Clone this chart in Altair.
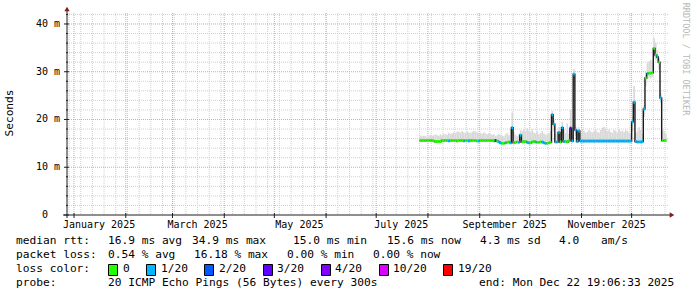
import altair as alt
import pandas as pd

MONO = "DejaVu Sans Mono"

# ---------------- data ----------------
first_day = "2025-07-27"   # first daily step that has data
median_ms = [
    15.6, 15.6, 15.6, 15.6, 15.6, 15.6, 15.6, 15.6, 15.5, 15.4,
    15.4, 15.4, 15.4, 15.6, 15.6, 15.6, 15.6, 15.5, 15.6, 15.6,
    15.6, 15.6, 15.5, 15.6, 15.6, 15.6, 15.5, 15.6, 15.6, 15.5,
    15.6, 15.6, 15.6, 15.6, 15.5, 15.5, 15.6, 15.6, 15.6, 15.6,
    15.6, 15.6, 15.6, 15.6, 15.5, 15.6, 15.5, 15.3, 15.1, 15.0,
    15.0, 15.1, 15.2, 15.3, 15.1, 18.3, 15.1, 15.2, 15.3, 15.2,
    16.7, 15.3, 15.4, 15.4, 15.2, 15.1, 15.1, 15.3, 15.4, 15.3,
    15.2, 15.2, 15.3, 15.3, 15.1, 15.0, 15.0, 15.1, 15.2, 21.0,
    19.0, 15.3, 15.3, 17.3, 15.3, 18.3, 15.4, 15.4, 15.3, 15.5,
    18.2, 15.5, 29.5, 17.8, 15.4, 17.6, 15.5, 15.5, 15.5, 15.5,
    15.5, 15.5, 15.5, 15.5, 15.5, 15.5, 15.5, 15.5, 15.5, 15.5,
    15.5, 15.5, 15.5, 15.5, 15.5, 15.5, 15.5, 15.5, 15.5, 15.5,
    15.5, 15.5, 15.5, 15.5, 15.5, 15.5, 15.5, 19.5,
    23.6, 15.4, 15.3, 15.3, 15.3, 15.4,
    22.2, 28.7, 29.6, 29.7, 29.7, 29.8,
    34.9, 33.5, 33.1, 32.0, 24.5, 15.6, 15.6, 15.6,
]
loss_idx = [
    0, 0, 0, 0, 0, 0, 0, 0, 0, 0,
    0, 0, 0, 0, 0, 0, 0, 1, 0, 0,
    0, 0, 0, 0, 0, 0, 1, 0, 0, 1,
    0, 0, 0, 0, 0, 1, 0, 0, 0, 0,
    0, 0, 0, 0, 0, 3, 0, 1, 1, 0,
    0, 1, 0, 0, 1, 1, 0, 0, 0, 1,
    1, 0, 0, 0, 1, 1, 0, 0, 0, 1,
    0, 0, 0, 1, 1, 1, 0, 0, 0, 1,
    1, 1, 1, 1, 0, 1, 1, 0, 0, 0,
    3, 1, 1, 1, 1, 1, 1, 1, 1, 1,
    1, 1, 1, 1, 1, 1, 1, 1, 1, 1,
    1, 1, 1, 1, 1, 1, 1, 1, 1, 1,
    1, 1, 1, 1, 1, 1, 1, 1,
    1, 1, 1, 1, 1, 1,
    1, 0, 1, 0, 0, 0,
    0, 0, 1, 0, 1, 0, 0, 0,
]
smoke_hi = [
    16.6, 16.5, 16.6, 16.6, 16.4, 16.5, 16.8, 16.6, 16.7, 16.9,
    16.7, 16.6, 16.9, 16.7, 17.0, 16.9, 16.8, 17.2, 17.0, 17.1,
    17.3, 17.2, 17.5, 17.4, 17.3, 17.6, 17.3, 17.2, 17.5, 17.3,
    17.2, 17.4, 17.6, 17.5, 17.3, 17.1, 17.2, 17.0, 17.3, 17.1,
    16.9, 17.1, 17.0, 16.8, 16.9, 16.6, 16.7, 17.0, 16.8, 16.6,
    16.5, 16.9, 17.2, 16.7, 17.9, 21.5, 17.3, 16.8, 16.5, 17.0,
    17.8, 17.5, 18.0, 17.6, 18.2, 17.7, 17.4, 17.9, 17.3, 17.1,
    17.5, 16.9, 17.2, 17.6, 17.0, 16.8, 16.9, 17.1, 17.6, 21.8,
    20.0, 16.9, 17.5, 18.5, 17.0, 19.5, 18.0, 17.2, 19.2, 17.0,
    22.0, 17.0, 30.5, 18.5, 17.5, 18.4, 17.0, 18.0, 17.6, 17.2,
    17.4, 17.8, 17.5, 17.3, 17.6, 17.9, 17.4, 17.2, 17.8, 18.3,
    18.5, 18.0, 17.6, 17.9, 17.4, 17.2, 17.8, 17.6, 17.3, 17.9,
    17.5, 17.7, 17.4, 17.8, 17.6, 17.3, 17.0, 20.5,
    27.0, 17.2, 17.6, 18.4, 17.8, 17.0,
    23.0, 30.0, 31.8, 32.2, 32.5, 32.0,
    37.0, 36.0, 34.5, 33.0, 25.5, 17.8, 17.6, 17.0,
]
smoke_lo = [
    15.4, 15.4, 15.4, 15.4, 15.4, 15.4, 15.4, 15.4, 15.4, 15.3,
    15.3, 15.3, 15.3, 15.4, 15.4, 15.4, 15.4, 15.3, 15.4, 15.4,
    15.4, 15.4, 15.3, 15.4, 15.4, 15.4, 15.3, 15.4, 15.4, 15.3,
    15.4, 15.4, 15.4, 15.4, 15.3, 15.3, 15.4, 15.4, 15.4, 15.4,
    15.4, 15.4, 15.4, 15.4, 15.3, 15.4, 15.3, 15.1, 14.9, 14.8,
    14.8, 14.9, 15.0, 15.1, 14.9, 16.5, 14.9, 15.0, 15.1, 15.0,
    15.6, 15.1, 15.2, 15.2, 15.0, 14.9, 14.9, 15.1, 15.2, 15.1,
    15.0, 15.0, 15.1, 15.1, 14.9, 14.8, 14.8, 14.9, 15.0, 19.0,
    17.5, 15.1, 15.1, 16.0, 15.1, 16.5, 15.2, 15.2, 15.1, 15.3,
    15.8, 15.3, 27.0, 16.5, 15.2, 16.3, 15.0, 15.0, 15.1, 15.1,
    15.1, 15.1, 15.1, 15.1, 15.1, 15.1, 15.1, 15.1, 15.1, 15.1,
    15.1, 15.1, 15.1, 15.1, 15.1, 15.1, 15.1, 15.1, 15.1, 15.1,
    15.1, 15.1, 15.1, 15.1, 15.1, 15.1, 15.1, 17.5,
    21.5, 15.1, 15.0, 15.0, 15.0, 15.1,
    20.5, 27.0, 28.5, 28.8, 28.6, 28.9,
    33.0, 32.5, 32.0, 30.5, 23.5, 15.4, 15.4, 15.4,
]

loss_levels = ["0", "1/20", "2/20", "3/20", "4/20", "10/20", "19/20"]
loss_colors = ["#26ff00", "#00b8ff", "#0059ff", "#5e00ff", "#7e00ff", "#dd00ff", "#ff0000"]

y_major = [0, 10, 20, 30, 40]
y_minor = [2, 4, 6, 8, 12, 14, 16, 18, 22, 24, 26, 28, 32, 34, 36, 38, 42]
month_starts = ["2025-01-01", "2025-02-01", "2025-03-01", "2025-04-01", "2025-05-01",
                "2025-06-01", "2025-07-01", "2025-08-01", "2025-09-01", "2025-10-01",
                "2025-11-01", "2025-12-01"]
label_dates = ["2025-01-16", "2025-03-16", "2025-05-16", "2025-07-16", "2025-09-16", "2025-11-16"]
label_texts = ["January 2025", "March 2025", "May 2025", "July 2025", "September 2025", "November 2025"]

legend_line1 = [("median rtt:", 16), ("16.9 ms avg", 108), ("34.9 ms max", 192),
                ("15.0 ms min", 293), ("15.6 ms now", 387), ("4.3 ms sd", 480),
                ("4.0", 559), ("am/s", 601)]
legend_line2 = [("packet loss:", 16), ("0.54 % avg", 108), ("16.18 % max", 194),
                ("0.00 % min", 287), ("0.00 % now", 373)]
legend_box_x = [108, 146, 204, 263, 321, 379, 443]
legend_lbl_x = [123, 161, 219, 277, 335, 393, 458]
legend_line4 = [("probe:", 16), ("20 ICMP Echo Pings (56 Bytes) every 300s", 108),
                ("end: Mon Dec 22 19:06:33 2025", 479)]

# ---------------- tables ----------------
LEFT, TOP, W, H = 67, 13, 601, 202
dates = pd.date_range(first_day, periods=len(median_ms), freq="D")
df = pd.DataFrame({
    "d": dates,
    "d2": dates + pd.Timedelta(days=1),
    "m": median_ms,
    "hi": smoke_hi,
    "lo": smoke_lo,
    "loss": [loss_levels[i] for i in loss_idx],
})
df["m_lo"] = df["m"] - 0.3
df["m_hi"] = df["m"] + 0.3

weeks = pd.date_range("2024-12-29", "2025-12-21", freq="7D")
df_weeks = pd.DataFrame({"d": weeks})
df_months = pd.DataFrame({"d": pd.to_datetime(month_starts)})
df_lbl = pd.DataFrame({"d": pd.to_datetime(label_dates), "t": label_texts})
df_ymaj = pd.DataFrame({"v": y_major, "t": [str(v) for v in y_major]})
df_ymin = pd.DataFrame({"v": y_minor})
dummy = pd.DataFrame({"a": [0]})

xs = alt.Scale(domain=[alt.DateTime(year=2024, month=12, date=27, hours=19, minutes=6, seconds=33),
                       alt.DateTime(year=2025, month=12, date=22, hours=19, minutes=6, seconds=33)])
ys = alt.Scale(domain=[0, 42.3], nice=False, zero=False)

def X(f):
    return alt.X(f, type="temporal", scale=xs, axis=None)

def Y(f):
    return alt.Y(f, type="quantitative", scale=ys, axis=None)

def txt(s, x, y, size=11.2, align="left", color="black", **kw):
    return alt.Chart(dummy).mark_text(text=s, font=MONO, fontSize=size, align=align,
                                      baseline="middle", color=color, **kw).encode(
        x=alt.value(x), y=alt.value(y))

layers = []
# grid
layers.append(alt.Chart(df_weeks).mark_rule(color="#cfcfcf", strokeDash=[1, 1], strokeWidth=1)
              .encode(x=X("d")))
layers.append(alt.Chart(df_ymin).mark_rule(color="#cfcfcf", strokeDash=[1, 1], strokeWidth=1)
              .encode(y=Y("v")))
layers.append(alt.Chart(df_months).mark_rule(color="#eb9e9e", strokeDash=[1, 1], strokeWidth=1)
              .encode(x=X("d")))
layers.append(alt.Chart(df_ymaj[df_ymaj.v > 0]).mark_rule(color="#eb9e9e", strokeDash=[1, 1], strokeWidth=1)
              .encode(y=Y("v")))

# smoke
layers.append(alt.Chart(df).mark_rect(color="#d9d9d9").encode(x=X("d"), x2="d2", y=Y("lo"), y2="hi"))
# median connector
layers.append(alt.Chart(df).mark_line(color="#1a1a1a", strokeWidth=1.4, interpolate="step-after")
              .encode(x=X("d"), y=Y("m")))
# median coloured by loss
layers.append(alt.Chart(df).mark_rect().encode(
    x=X("d"), x2="d2", y=Y("m_lo"), y2="m_hi",
    color=alt.Color("loss:N", scale=alt.Scale(domain=loss_levels, range=loss_colors), legend=None)))

# axes
layers.append(alt.Chart(dummy).mark_rule(color="#1f1f1f", strokeWidth=1).encode(
    x=alt.value(0), y=alt.value(-3), y2=alt.value(H + 3)))
layers.append(alt.Chart(dummy).mark_rule(color="#1f1f1f", strokeWidth=1).encode(
    x=alt.value(-4), x2=alt.value(W + 2), y=alt.value(H)))
layers.append(alt.Chart(dummy).mark_point(shape="triangle-up", filled=True, color="#7f1f1f", size=28, opacity=1)
              .encode(x=alt.value(0), y=alt.value(-4)))
layers.append(alt.Chart(dummy).mark_point(shape="triangle-right", filled=True, color="#7f1f1f", size=28, opacity=1)
              .encode(x=alt.value(W + 4), y=alt.value(H)))
layers.append(alt.Chart(df_ymaj).mark_rule(color="#1f1f1f").encode(
    y=Y("v"), x=alt.value(-3), x2=alt.value(2)))
layers.append(alt.Chart(df_ymin).mark_rule(color="#1f1f1f").encode(
    y=Y("v"), x=alt.value(-1), x2=alt.value(1)))
layers.append(alt.Chart(df_months).mark_rule(color="#1f1f1f").encode(
    x=X("d"), y=alt.value(H - 2), y2=alt.value(H + 3)))

# axis labels
layers.append(alt.Chart(df_ymaj).mark_text(font=MONO, fontSize=10, align="right", baseline="middle", color="black")
              .encode(y=Y("v"), x=alt.value(-19), text="t:N"))
layers.append(alt.Chart(df_ymaj[df_ymaj.v > 0]).mark_text(text="m", font=MONO, fontSize=10, align="left",
                                                          baseline="middle", color="black")
              .encode(y=Y("v"), x=alt.value(-13)))
layers.append(alt.Chart(df_lbl).mark_text(font=MONO, fontSize=10, align="center", baseline="middle", color="black")
              .encode(x=X("d"), y=alt.value(H + 10), text="t:N"))
layers.append(txt("Seconds", 10 - LEFT, 113 - TOP, size=11.2, align="center", angle=270))
layers.append(txt("RRDTOOL / TOBI OETIKER", 686 - LEFT, 59 - TOP, size=8.5, align="center",
                  angle=90, color="#b8b8b8"))

# legend text
for s, x in legend_line1:
    layers.append(txt(s, x - LEFT, 241 - TOP))
for s, x in legend_line2:
    layers.append(txt(s, x - LEFT, 255 - TOP))
layers.append(txt("loss color:", 16 - LEFT, 269 - TOP))
for lvl, col, bx, lx in zip(loss_levels, loss_colors, legend_box_x, legend_lbl_x):
    layers.append(alt.Chart(dummy).mark_rect(color=col, stroke="black", strokeWidth=1).encode(
        x=alt.value(bx - LEFT + 0.5), x2=alt.value(bx - LEFT + 9.5),
        y=alt.value(264 - TOP + 0.5), y2=alt.value(275 - TOP + 0.5)))
    layers.append(txt(lvl, lx - LEFT, 269 - TOP))
for s, x in legend_line4:
    layers.append(txt(s, x - LEFT, 283 - TOP))

chart = alt.layer(*layers).properties(
    width=W, height=H,
    padding={"left": LEFT, "top": TOP, "right": 697 - LEFT - W, "bottom": 297 - TOP - H},
    autosize=alt.AutoSizeParams(type="none"),
    background="white",
).configure_view(stroke=None)

chart.save("out.html", embed_options={"renderer": "svg", "actions": False})
